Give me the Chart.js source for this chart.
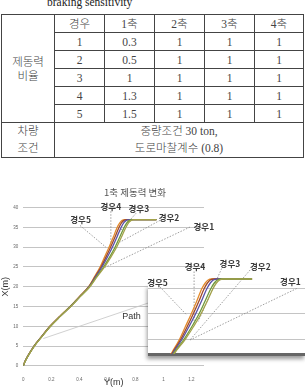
<!DOCTYPE html>
<html>
<head>
<meta charset="utf-8">
<script src="https://cdn.jsdelivr.net/npm/chart.js@4.4.1/dist/chart.umd.min.js"></script>
<style>
    body { margin: 0; width: 305px; height: 388px; overflow: hidden; background: #fff; position: relative; }
    #caption { position: absolute; left: 47px; top: -4px; font: 11.5px "Liberation Serif", serif; color: #222; }
    #specTable { position: absolute; left: 1px; top: 14px; width: 303px; border-collapse: collapse; table-layout: fixed;
        font: 300 11.5px "Liberation Serif", "Noto Sans CJK KR", serif; color: #444; }
    #specTable td { border: 1px solid #444; padding: 0; text-align: center; height: 17px; line-height: 14px; }
    #specTable td.tall { height: 33px; line-height: 17px; }
    #mainWrap { position: absolute; left: 0; top: 160px; width: 270px; height: 228px; }
    #insetBox { position: absolute; left: 148px; top: 285px; width: 157px; height: 68px; background: #fff;
        border-bottom: 3px solid #666; box-shadow: -1px 3px 4px rgba(0,0,0,0.4); }
    #insetWrap { position: absolute; left: 140px; top: 250px; width: 165px; height: 108px; }
</style>
</head>
<body>
<div id="caption">braking sensitivity</div>
<table id="specTable">
    <colgroup><col style="width:53px"><col style="width:50px"><col style="width:50px"><col style="width:50px"><col style="width:50px"><col></colgroup>
    <tbody id="tableBody"></tbody>
</table>

<div id="mainWrap"><canvas id="main-chart" width="270" height="228"></canvas></div>
<div id="insetBox"></div>
<div id="insetWrap"><canvas id="inset-chart" width="165" height="108"></canvas></div>

<script>
// 표 데이터
const tableHead = ["경우", "1축", "2축", "3축", "4축"];
const tableRows = [
    ["1", "0.3", "1", "1", "1"],
    ["2", "0.5", "1", "1", "1"],
    ["3", "1", "1", "1", "1"],
    ["4", "1.3", "1", "1", "1"],
    ["5", "1.5", "1", "1", "1"]
];

// 곡선 데이터 (X(m) 값 공통, Y(m) 값은 경우별)
const xLevels = [0, 1, 2.5, 5, 7.5, 10, 12.5, 15, 17.5, 20, 22.5, 25, 27.5, 30, 32.5, 35, 36.2, 36.8, 37, 37];
const case1Y = [0, 0.012, 0.034, 0.079, 0.136, 0.194, 0.264, 0.338, 0.406, 0.475, 0.526, 0.58, 0.625, 0.666, 0.7, 0.732, 0.752, 0.77, 0.79, 0.95];
const case2Y = [0, 0.012, 0.034, 0.078, 0.135, 0.193, 0.263, 0.337, 0.405, 0.473, 0.522, 0.573, 0.616, 0.655, 0.688, 0.72, 0.74, 0.758, 0.778, 0.95];
const case3Y = [0, 0.011, 0.033, 0.077, 0.134, 0.192, 0.262, 0.336, 0.403, 0.47, 0.516, 0.562, 0.6, 0.636, 0.668, 0.698, 0.718, 0.735, 0.755, 0.95];
const case4Y = [0, 0.011, 0.033, 0.077, 0.133, 0.191, 0.261, 0.335, 0.402, 0.468, 0.512, 0.555, 0.59, 0.623, 0.654, 0.683, 0.702, 0.718, 0.738, 0.95];
const case5Y = [0, 0.01, 0.032, 0.076, 0.132, 0.19, 0.26, 0.334, 0.4, 0.466, 0.508, 0.548, 0.58, 0.612, 0.642, 0.67, 0.69, 0.706, 0.725, 0.95];
const caseNames = ["경우1", "경우2", "경우3", "경우4", "경우5"];
const yTicksMain = [0, 5, 10, 15, 20, 25, 30, 35, 40];
const xTicksMain = [0, 0.2, 0.4, 0.6, 0.8, 1, 1.2];
const insetGrid = [25, 30, 35];

const caseColors = ["#a3a24a", "#6f9a3c", "#5a52a8", "#a04a2a", "#e38b2c"];

window.addEventListener("load", function () {
    buildTable();
    drawCharts();
});

function buildTable() {
    let html = "<tr><td rowspan='6'>제동력<br>비율</td>";
    for (let i = 0; i < tableHead.length; i++) html += "<td>" + tableHead[i] + "</td>";
    html += "</tr>";
    for (let r = 0; r < tableRows.length; r++) {
        html += "<tr>";
        for (let c = 0; c < tableRows[r].length; c++) html += "<td>" + tableRows[r][c] + "</td>";
        html += "</tr>";
    }
    html += "<tr><td class='tall'>차량<br>조건</td><td class='tall' colspan='5'>중량조건 30 ton,<br>도로마찰계수 (0.8)</td></tr>";
    document.querySelector("#tableBody").innerHTML = html;
}

// 주석(라벨 + 지시선) 그리는 플러그인
const notesPlugin = {
    id: "notes",
    beforeDatasetsDraw(chart, args, opts) {
        const ctx = chart.ctx, sx = chart.scales.x, sy = chart.scales.y;
        ctx.save();
        (opts.items || []).forEach(function (n) {
            if (!n.from) return;
            ctx.setLineDash(n.dash || [1.5, 1.5]);
            ctx.strokeStyle = n.lineColor || "#888";
            ctx.lineWidth = 0.8;
            ctx.beginPath();
            ctx.moveTo(sx.getPixelForValue(n.from[0]), sy.getPixelForValue(n.from[1]));
            ctx.lineTo(sx.getPixelForValue(n.to[0]), sy.getPixelForValue(n.to[1]));
            ctx.stroke();
        });
        ctx.restore();
    },
    afterDatasetsDraw(chart, args, opts) {
        const ctx = chart.ctx, sx = chart.scales.x, sy = chart.scales.y;
        ctx.save();
        ctx.textAlign = "center";
        ctx.textBaseline = "middle";
        (opts.items || []).forEach(function (n) {
            ctx.font = n.font || "700 8.5px 'Noto Sans CJK KR'";
            ctx.fillStyle = n.color || "#3a3a3a";
            ctx.fillText(n.text, sx.getPixelForValue(n.at[0]), sy.getPixelForValue(n.at[1]));
        });
        if (opts.title) {
            ctx.font = "9.5px 'Noto Sans CJK KR'";
            ctx.fillStyle = "#555";
            ctx.fillText(opts.title, chart.width / 2, chart.chartArea.top - 15);
        }
        ctx.restore();
    }
};

function makeDatasets() {
    const all = [case1Y, case2Y, case3Y, case4Y, case5Y];
    return all.map(function (ys, k) {
        return {
            label: caseNames[k],
            data: ys.map(function (v, i) { return { x: v, y: xLevels[i] }; }),
            borderColor: caseColors[k],
            borderWidth: 1.3,
            pointRadius: 0,
            cubicInterpolationMode: "monotone",
            fill: false
        };
    });
}

function drawCharts() {
    const mainNotes = [
        { text: "경우5", at: [0.409, 36.9], from: [0.405, 35.5], to: [0.59, 30] },
        { text: "경우4", at: [0.625, 40.2], from: [0.625, 39.1], to: [0.625, 30.3] },
        { text: "경우3", at: [0.825, 39.8], from: [0.805, 38.6], to: [0.665, 33] },
        { text: "경우2", at: [1.04, 37.5], from: [0.976, 36.8], to: [0.69, 31.3] },
        { text: "경우1", at: [1.289, 35.1], from: [1.19, 35.1], to: [0.584, 24.9] },
        { text: "Path", at: [0.773, 12.4], from: [0.893, 15.9], to: [0.143, 6.9], dash: [], lineColor: "#c4c4c4",
          font: "9px 'Liberation Sans'", color: "#333" }
    ];

    new Chart(document.getElementById("main-chart"), {
        type: "line",
        data: { datasets: makeDatasets() },
        plugins: [notesPlugin],
        options: {
            responsive: false,
            animation: false,
            layout: { padding: { top: 47.7, right: 66, left: 0, bottom: 0 } },
            plugins: {
                legend: { display: false },
                tooltip: { enabled: false },
                notes: { items: mainNotes, title: "1축 제동력 변화" }
            },
            scales: {
                x: {
                    type: "linear",
                    min: 0, max: 1.29,
                    afterBuildTicks: function (s) { s.ticks = xTicksMain.map(function (v) { return { value: v }; }); },
                    afterFit: function (s) { s.height = 22.2; },
                    grid: { display: false },
                    border: { display: false },
                    ticks: { font: { size: 4.5 }, color: "#666", padding: 3,
                        callback: function (v) { return String(Number(v.toFixed(1))); } },
                    title: { display: true, text: "Y(m)", font: { size: 9, family: "'Liberation Sans'" }, color: "#333", padding: 0 }
                },
                y: {
                    min: 0, max: 40,
                    afterBuildTicks: function (s) { s.ticks = yTicksMain.map(function (v) { return { value: v }; }); },
                    afterFit: function (s) { s.width = 23.3; },
                    grid: { color: "#c4c4c4", lineWidth: 1, drawTicks: false },
                    border: { display: false },
                    ticks: { font: { size: 4.5 }, color: "#666", padding: 5 },
                    title: { display: true, text: "X(m)", font: { size: 9, family: "'Liberation Sans'" }, color: "#333", padding: 0 }
                }
            }
        }
    });

    const insetNotes = [
        { text: "경우5", at: [0.425, 36.3], from: [0.439, 35.4], to: [0.587, 29.8] },
        { text: "경우4", at: [0.633, 39.5], from: [0.628, 38.5], to: [0.628, 28.1] },
        { text: "경우3", at: [0.827, 40], from: [0.781, 39.1], to: [0.651, 28.5] },
        { text: "경우2", at: [0.996, 39.5], from: [0.939, 38.8], to: [0.605, 24.8] },
        { text: "경우1", at: [1.163, 36.5], from: [1.198, 35.1], to: [0.605, 24.8] }
    ];

    new Chart(document.getElementById("inset-chart"), {
        type: "line",
        data: { datasets: makeDatasets() },
        plugins: [notesPlugin],
        options: {
            responsive: false,
            animation: false,
            layout: { padding: { top: 0, right: 0, left: 8, bottom: 4 } },
            plugins: {
                legend: { display: false },
                tooltip: { enabled: false },
                notes: { items: insetNotes }
            },
            scales: {
                x: {
                    type: "linear",
                    min: 0.372, max: 1.244,
                    afterFit: function (s) { s.height = 0; },
                    grid: { display: false },
                    border: { display: false },
                    ticks: { display: false }
                },
                y: {
                    min: 22, max: 42.8,
                    afterBuildTicks: function (s) { s.ticks = insetGrid.map(function (v) { return { value: v }; }); },
                    afterFit: function (s) { s.width = 0; },
                    grid: { color: "#c4c4c4", lineWidth: 1, drawTicks: false },
                    border: { display: false },
                    ticks: { display: false }
                }
            }
        }
    });
}
</script>
</body>
</html>
